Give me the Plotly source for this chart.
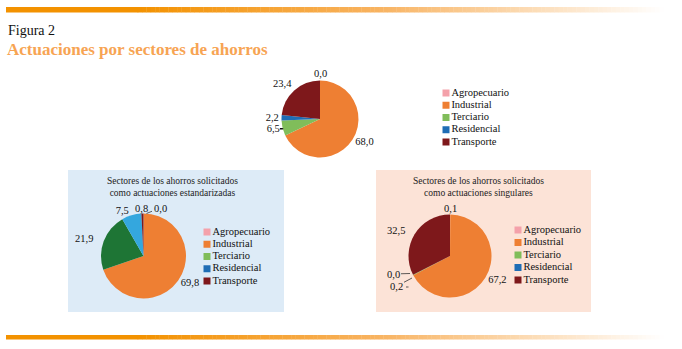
import plotly.graph_objects as go

W, H = 682, 349

# ---------------- data ----------------
sectors = ["Agropecuario", "Industrial", "Terciario", "Residencial", "Transporte"]
total_values = [0.0, 68.0, 6.5, 2.2, 23.4]
std_values = [0.0, 69.8, 21.9, 7.5, 0.8]
sing_values = [0.1, 67.2, 0.2, 0.0, 32.5]

legend_colors = ["#F4A1AA", "#EE7F33", "#80BD5A", "#1F6DB5", "#7E181B"]
std_colors = ["#F4A1AA", "#EE7F33", "#1E7535", "#34A7DE", "#7E181B"]

fig_title = "Figura 2"
fig_subtitle = "Actuaciones por sectores de ahorros"
std_title = "Sectores de los ahorros solicitados<br>como actuaciones estandarizadas"
sing_title = "Sectores de los ahorros solicitados<br>como actuaciones singulares"

SERIF = "Liberation Serif, Times New Roman, serif"


def fx(x):
    return x / W


def fy(y):
    return 1 - y / H


def fmt(v):
    return ("%.1f" % v).replace(".", ",")


def pie_domain(cx, cy, r):
    return dict(x=[fx(cx - r), fx(cx + r)], y=[fy(cy + r), fy(cy - r)])


fig = go.Figure()

# slices whose labels are placed by hand (crowded small slices, wide left labels)
# (pie index, slice index) -> (label x px, label y px, leader point or None)
manual_labels = {
    (0, 0): (320, 73, None),
    (0, 4): (282, 83.5, None),
    (1, 4): (141, 208, None),
    (1, 0): (160, 208, (146.5, 213.5)),
    (1, 2): (84, 238, None),
    (2, 0): (450, 208, None),
    (2, 4): (396, 230, None),
    (2, 3): (393, 274, (410, 273.5)),
    (2, 2): (396, 286.5, (412, 278)),
}

pies = [
    (total_values, legend_colors, (320, 119, 38.5)),
    (std_values, std_colors, (143.5, 256, 42.5)),
    (sing_values, legend_colors, (450, 256, 41.5)),
]
annotations = []
for p, (vals, cols, (cx, cy, r)) in enumerate(pies):
    texts = []
    for s, v in enumerate(vals):
        if (p, s) in manual_labels:
            texts.append("")
            lx, ly, lead = manual_labels[(p, s)]
            if lead is None:
                annotations.append(dict(text=fmt(v), x=fx(lx), y=fy(ly), xref="paper", yref="paper",
                                        xanchor="center", yanchor="middle", showarrow=False,
                                        font=dict(family=SERIF, size=10.5, color="#111")))
            else:
                annotations.append(dict(text=fmt(v), x=fx(lead[0]), y=fy(lead[1]), xref="paper",
                                        yref="paper", ax=lx - lead[0], ay=ly - lead[1],
                                        showarrow=True, arrowhead=0, arrowwidth=0.8,
                                        arrowcolor="#333", standoff=0, startstandoff=0,
                                        font=dict(family=SERIF, size=10.5, color="#111")))
        else:
            texts.append(fmt(v))
    fig.add_trace(go.Pie(
        labels=sectors, values=vals, sort=False, direction="clockwise",
        rotation=0, marker=dict(colors=cols, line=dict(width=0)),
        textposition="outside", text=texts, textinfo="text",
        textfont=dict(family=SERIF, size=10.5, color="#111"),
        domain=pie_domain(cx, cy, r), showlegend=False, hoverinfo="label+value",
    ))

# ---------------- legends (drawn on hidden axes) ----------------
legend_boxes = [
    # (marker center x, first row y, last row y)
    (446, 93, 142),
    (207, 232, 281),
    (518, 230, 280),
]
for i, (mx, y0, y1) in enumerate(legend_boxes):
    n = len(sectors)
    step = (y1 - y0) / (n - 1)
    top = y0 - step / 2
    bot = y1 + step / 2
    ax = str(i + 2)
    fig.add_trace(go.Scatter(
        x=[0] * n, y=list(range(n)), mode="markers+text",
        text=sectors, textposition="middle right",
        textfont=dict(family=SERIF, size=10.5, color="#111"),
        marker=dict(symbol="square", size=7, color=legend_colors),
        xaxis="x" + ax, yaxis="y" + ax, showlegend=False, hoverinfo="skip",
        cliponaxis=False,
    ))
    fig.layout["xaxis" + ax] = dict(domain=[fx(mx - 5), fx(mx + 5)], range=[-1, 1],
                                    visible=False, fixedrange=True)
    fig.layout["yaxis" + ax] = dict(domain=[fy(bot), fy(top)], range=[n - 0.5, -0.5],
                                    visible=False, fixedrange=True)

# ---------------- decorations ----------------
shapes = [
    dict(type="rect", xref="paper", yref="paper", x0=fx(68), x1=fx(284), y0=fy(312), y1=fy(170),
         fillcolor="#DDEBF7", line=dict(width=0), layer="below"),
    dict(type="rect", xref="paper", yref="paper", x0=fx(376), x1=fx(591), y0=fy(312), y1=fy(170),
         fillcolor="#FCE3D7", line=dict(width=0), layer="below"),
    # bracket of the "0,2" leader in the right-hand pie
    dict(type="path", xref="paper", yref="paper",
         path="M %f %f L %f %f" % (fx(406), fy(287), fx(408.5), fy(287)),
         line=dict(color="#333", width=0.8)),
]


def grad_color(t):
    c0 = (243, 146, 0)
    c1 = (248, 178, 95)
    c2 = (255, 255, 255)
    if t < 0.45:
        a = t / 0.45
        c = [c0[k] + (c1[k] - c0[k]) * a for k in range(3)]
    else:
        a = (t - 0.45) / 0.55
        c = [c1[k] + (c2[k] - c1[k]) * a for k in range(3)]
    return "rgb(%d,%d,%d)" % tuple(int(round(v)) for v in c)


def gradient_bar(xa, xb, ya, yb, nseg=120):
    out = []
    solid_end = xa + (xb - xa) * 0.2
    out.append(dict(type="rect", xref="paper", yref="paper", x0=fx(xa), x1=fx(solid_end) + 0.001,
                    y0=fy(yb), y1=fy(ya), fillcolor="rgb(243,146,0)", line=dict(width=0), layer="below"))
    seg = (xb - solid_end) / nseg
    for k in range(nseg):
        t = (k + 0.5) / nseg
        out.append(dict(type="rect", xref="paper", yref="paper",
                        x0=fx(solid_end + k * seg), x1=fx(solid_end + (k + 1) * seg) + 0.0005,
                        y0=fy(yb), y1=fy(ya), fillcolor=grad_color(t), line=dict(width=0), layer="below"))
    return out


shapes += gradient_bar(6, 664, 7, 12.5)
shapes += gradient_bar(6, 664, 335, 339.5)

annotations += [
    dict(text=fig_title, x=fx(6), y=fy(30), xref="paper", yref="paper", xanchor="left", yanchor="middle",
         showarrow=False, font=dict(family=SERIF, size=14, color="#111")),
    dict(text="<b>" + fig_subtitle + "</b>", x=fx(5), y=fy(50), xref="paper", yref="paper",
         xanchor="left", yanchor="middle", showarrow=False,
         font=dict(family=SERIF, size=17, color="#F7A453")),
    dict(text=std_title, x=fx(172), y=fy(187), xref="paper", yref="paper", xanchor="center",
         yanchor="middle", showarrow=False, font=dict(family=SERIF, size=9.5, color="#222")),
    dict(text=sing_title, x=fx(478), y=fy(187), xref="paper", yref="paper", xanchor="center",
         yanchor="middle", showarrow=False, font=dict(family=SERIF, size=9.5, color="#222")),
]

fig.update_layout(
    width=W, height=H, margin=dict(l=0, r=0, t=0, b=0),
    paper_bgcolor="white", plot_bgcolor="white",
    separators=",.", shapes=shapes, annotations=annotations,
    font=dict(family=SERIF),
)

fig.write_html("out.html")
